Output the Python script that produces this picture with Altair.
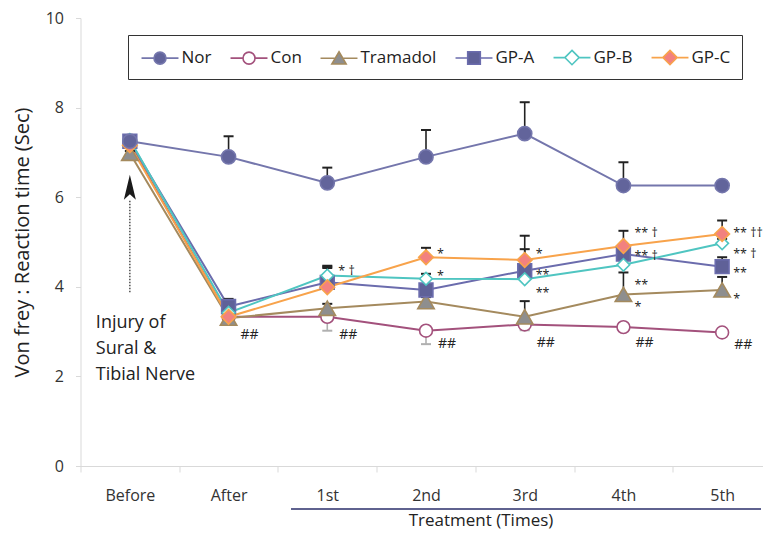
import altair as alt
import pandas as pd

# ---------------- data ----------------
categories = ["Before", "After", "1st", "2nd", "3rd", "4th", "5th"]
groups = ["Nor", "Con", "Tramadol", "GP-A", "GP-B", "GP-C"]

nor = [7.25, 6.90, 6.32, 6.90, 7.42, 6.26, 6.26]
con = [7.20, 3.33, 3.33, 3.02, 3.16, 3.10, 2.98]
tramadol = [6.98, 3.30, 3.52, 3.67, 3.33, 3.83, 3.93]
gp_a = [7.25, 3.56, 4.10, 3.93, 4.36, 4.73, 4.45]
gp_b = [7.28, 3.42, 4.25, 4.18, 4.17, 4.49, 4.97]
gp_c = [7.16, 3.33, 3.99, 4.66, 4.60, 4.91, 5.18]

nor_err = [0.05, 0.46, 0.34, 0.60, 0.70, 0.52, 0.04]
con_err = [0.05, 0.05, 0.31, 0.30, 0.13, 0.05, 0.05]   # drawn downward
tramadol_err = [0.05, 0.05, 0.10, 0.10, 0.35, 0.49, 0.29]
gp_a_err = [0.05, 0.17, 0.37, 0.10, 0.48, 0.20, 0.21]
gp_b_err = [0.08, 0.10, 0.20, 0.11, 0.15, 0.10, 0.10]
gp_c_err = [0.05, 0.10, 0.43, 0.21, 0.54, 0.34, 0.30]

ann_cats = ["After", "1st", "2nd", "3rd", "4th", "5th",
            "1st", "2nd", "2nd", "3rd", "3rd", "3rd",
            "4th", "4th", "4th", "4th", "5th", "5th", "5th", "5th"]
ann_vals = [2.92, 2.92, 2.72, 2.74, 2.75, 2.70,
            4.36, 4.73, 4.23, 4.74, 4.26, 3.87,
            5.19, 4.69, 4.04, 3.56, 5.19, 4.73, 4.30, 3.73]
ann_texts = ["##"] * 6 + ["*  \u2020", "*", "*", "*", "**", "**",
                          "**   \u2020", "**   \u2020", "**", "*",
                          "** \u2020\u2020", "**  \u2020", "**", "*"]

injury_lines = ["Injury of", "Sural &", "Tibial Nerve"]
injury_vals = [3.19, 2.61, 2.03]
arrow_from, arrow_to, arrow_head = 3.88, 5.95, 6.22

# ---------------- styles ----------------
line_colors = ["#7476ac", "#a3517c", "#a48a5e", "#6b6cad", "#4fc5c1", "#f8a34b"]
fill_colors = ["#62649b", "#ffffff", "#8e8e8e", "#5f6198", "#ffffff", "#f2817f"]
marker_shapes = ["circle", "circle", "triangle-up", "square", "diamond", "diamond"]
marker_sizes = [200, 165, 270, 190, 160, 215]
legend_paths = [
    "M-1.76,0H-0.57M0.57,0H1.76M0.57,0A0.57,0.57 0 1 1 -0.57,0A0.57,0.57 0 1 1 0.57,0Z",
    "M-1.76,0H-0.57M0.57,0H1.76M0.57,0A0.57,0.57 0 1 1 -0.57,0A0.57,0.57 0 1 1 0.57,0Z",
    "M-1.76,0H-0.36M0.36,0H1.76M0,-0.62L0.68,0.55L-0.68,0.55Z",
    "M-1.76,0H-0.6M0.6,0H1.76M-0.6,-0.6H0.6V0.6H-0.6Z",
    "M-1.76,0H-0.68M0.68,0H1.76M0,-0.68L0.68,0L0,0.68L-0.68,0Z",
    "M-1.76,0H-0.68M0.68,0H1.76M0,-0.68L0.68,0L0,0.68L-0.68,0Z",
]
FONT = "Open Sans"
W, H = 682, 448          # drawn area; the band scale runs a little past its right edge
X_RANGE = 691

series = dict(zip(groups, [nor, con, tramadol, gp_a, gp_b, gp_c]))
errs = dict(zip(groups, [nor_err, con_err, tramadol_err, gp_a_err, gp_b_err, gp_c_err]))

rows = []
for g in groups:
    for i, c in enumerate(categories):
        v = series[g][i]
        e = errs[g][i]
        if g == "Con":
            lo, hi, cap, ec = v - e, v, v - e, "#b0b0b0"
        else:
            lo, hi, cap, ec = v, v + e, v + e, "#222222"
        rows.append(dict(group=g, cat=c, value=v, lo=lo, hi=hi, cap=cap, ecol=ec, order=i))
df = pd.DataFrame(rows)

ann_df = pd.DataFrame(dict(cat=ann_cats, value=ann_vals, txt=ann_texts))
inj_df = pd.DataFrame(dict(cat=["Before"] * 3, value=injury_vals, txt=injury_lines))
arrow_df = pd.DataFrame(dict(cat=["Before"], lo=[arrow_from], hi=[arrow_to], head=[arrow_head]))
leg_df = pd.DataFrame(dict(group=groups))

x_scale = alt.Scale(type="band", domain=categories, paddingInner=0, paddingOuter=0,
                    range=[0, X_RANGE])
x_ax = alt.Axis(
    title="Treatment (Times)", labelAngle=0, tickBand="extent",
    domainColor="#d9d9d9", tickColor="#d9d9d9", tickSize=6,
    labelFont=FONT, labelFontSize=16, labelColor="#333333", labelPadding=15,
    titleFont=FONT, titleFontSize=17, titleFontWeight="normal", titleColor="#222222",
    titleX=400, titleY=59, titleBaseline="alphabetic", titleAlign="center",
)
y_scale = alt.Scale(domain=[0, 10], nice=False)
y_ax = alt.Axis(
    title="Von frey :  Reaction time (Sec)", values=[0, 2, 4, 6, 8, 10], grid=False,
    domainColor="#d9d9d9", tickColor="#d9d9d9", tickSize=5,
    labelFont=FONT, labelFontSize=16, labelColor="#333333", labelPadding=12,
    titleFont=FONT, titleFontSize=20, titleFontWeight="normal", titleColor="#222222",
    titlePadding=13,
)


def X():
    return alt.X("cat:N", sort=categories, scale=x_scale, axis=x_ax)


def Y(field):
    return alt.Y(f"{field}:Q", scale=y_scale, axis=y_ax)


legend_props = dict(
    title=None, orient="none", legendX=47.5, legendY=17, direction="horizontal", columns=6,
    strokeColor="#333333", fillColor="#ffffff", padding=11,
    labelFont=FONT, labelFontSize=17, labelColor="#222222",
    symbolSize=441, symbolOffset=9.5, labelOffset=10, columnPadding=15,
    symbolStrokeWidth=1.6,
)


def S():
    return alt.Stroke("group:N", scale=alt.Scale(domain=groups, range=line_colors),
                      legend=alt.Legend(**legend_props))


def F():
    return alt.Fill("group:N", scale=alt.Scale(domain=groups, range=fill_colors),
                    legend=alt.Legend(**legend_props))


legend_layer = alt.Chart(leg_df).mark_point(clip=True, opacity=1, strokeWidth=1.6).encode(
    x=alt.value(10),
    y=alt.value(-300),
    shape=alt.Shape("group:N", scale=alt.Scale(domain=groups, range=legend_paths),
                    legend=alt.Legend(**legend_props)),
    fill=F(),
    stroke=S(),
)

lines = alt.Chart(df).mark_line(strokeWidth=2).encode(
    x=X(), y=Y("value"), stroke=S(), order="order:Q"
)

err_rules = alt.Chart(df).mark_rule(strokeWidth=1.6).encode(
    x=X(), y=Y("lo"), y2="hi:Q", color=alt.Color("ecol:N", scale=None),
)
err_caps = alt.Chart(df).mark_tick(size=10, thickness=2, opacity=1).encode(
    x=X(), y=Y("cap"), color=alt.Color("ecol:N", scale=None),
)

point_layers = []
draw_order = ["Con", "Tramadol", "GP-A", "GP-B", "GP-C", "Nor"]
for g in draw_order:
    i = groups.index(g)
    point_layers.append(
        alt.Chart(df)
        .transform_filter(alt.datum.group == g)
        .mark_point(shape=marker_shapes[i], size=marker_sizes[i], strokeWidth=1.6, opacity=1)
        .encode(x=X(), y=Y("value"), fill=F(), stroke=S())
    )

stars = alt.Chart(ann_df).transform_filter(alt.datum.txt != "##").mark_text(
    align="left", baseline="middle", dx=11, fontSize=12.5, font=FONT, color="#222222"
).encode(x=X(), y=Y("value"), text="txt:N")

hashes = alt.Chart(ann_df).transform_filter(alt.datum.txt == "##").mark_text(
    align="left", baseline="middle", dx=12, fontSize=14, font=FONT, color="#222222"
).encode(x=X(), y=Y("value"), text="txt:N")

injury = alt.Chart(inj_df).mark_text(
    align="left", baseline="middle", dx=-34, fontSize=18, font=FONT, color="#222222"
).encode(x=X(), y=Y("value"), text="txt:N")

arrow_line = alt.Chart(arrow_df).mark_rule(strokeDash=[1.5, 1.5], strokeWidth=1.3, color="#333333").encode(
    x=X(), y=Y("lo"), y2="hi:Q"
)
arrow_tip = alt.Chart(arrow_df).mark_point(
    shape="M0,-1L0.48,1L0,0.55L-0.48,1Z", size=625, filled=True, color="#1a1a1a", opacity=1
).encode(x=X(), y=Y("head"))

treat_line = alt.Chart(leg_df).mark_rule(color="#5f628f", strokeWidth=2).encode(
    x=alt.value(211), x2=alt.value(680), y=alt.value(H + 43)
)

chart = (
    alt.layer(legend_layer, lines, err_rules, err_caps, *point_layers, stars, hashes,
              injury, arrow_line, arrow_tip, treat_line)
    .properties(width=W, height=H, background="white",
                autosize=alt.AutoSizeParams(type="none"),
                padding={"left": 72.5, "top": 10, "right": 0, "bottom": 64})
    .configure_view(stroke=None)
)

chart.save("out.html", embed_options={"renderer": "svg", "actions": False})
